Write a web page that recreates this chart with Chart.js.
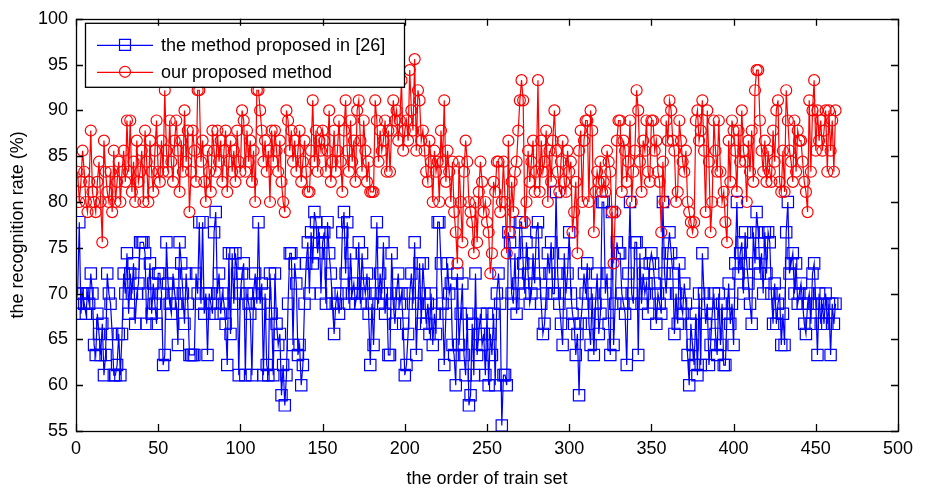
<!DOCTYPE html>
<html>
<head>
<meta charset="utf-8">
<script src="https://cdn.jsdelivr.net/npm/chart.js@4.4.0/dist/chart.umd.min.js"></script>
<style>
html, body { margin: 0; padding: 0; background: #fff; }
</style>
</head>
<body>
<canvas id="chart-area" width="930" height="491"></canvas>
<script>
// recognition rate (%) for each train set
var ref26Rate = [
	70, 77.8, 67.8, 70, 68.9, 67.8, 70, 68.9, 72.2, 70,
	64.4, 63.3, 67.8, 65.6, 63.3, 66.7, 61.1, 63.3, 72.2, 70,
	68.9, 65.6, 61.1, 61.1, 62.2, 65.6, 61.1, 65.6, 72.2, 70,
	74.4, 67.8, 72.2, 70, 73.3, 66.7, 70, 71.1, 75.6, 75.6,
	75.6, 74.4, 66.7, 70, 73.3, 67.8, 71.1, 68.9, 66.7, 72.2,
	72.2, 70, 62.2, 63.3, 75.6, 71.1, 68.9, 67.8, 72.2, 70,
	68.9, 64.4, 75.6, 73.3, 70, 66.7, 72.2, 68.9, 63.3, 63.3,
	63.3, 63.3, 72.2, 70, 77.8, 68.9, 77.8, 67.8, 70, 63.3,
	70, 68.9, 67.8, 76.7, 78.9, 70, 72.2, 67.8, 70, 68.9,
	66.7, 62.2, 74.4, 65.6, 74.4, 68.9, 74.4, 72.2, 61.1, 70,
	72.2, 73.3, 61.1, 70, 68.9, 67.8, 61.1, 70, 72.2, 68.9,
	77.8, 68.9, 71.1, 61.1, 70, 62.2, 61.1, 72.2, 67.8, 61.1,
	72.2, 66.7, 64.4, 65.6, 58.9, 62.2, 57.8, 61.1, 68.9, 74.4,
	74.4, 64.4, 73.3, 71.1, 63.3, 64.4, 60, 62.2, 68.9, 73.3,
	75.6, 70, 76.7, 73.3, 78.9, 77.8, 74.4, 76.7, 70, 75.6,
	76.7, 68.9, 77.8, 74.4, 72.2, 68.9, 65.6, 68.9, 70, 67.8,
	70, 76.7, 78.9, 72.2, 77.8, 68.9, 74.4, 70, 71.1, 68.9,
	70, 75.6, 68.9, 74.4, 71.1, 70, 72.2, 67.8, 62.2, 68.9,
	64.4, 70, 77.8, 68.9, 72.2, 70, 75.6, 67.8, 70, 63.3,
	63.3, 74.4, 68.9, 66.7, 70, 72.2, 68.9, 70, 66.7, 61.1,
	62.2, 65.6, 70, 72.2, 68.9, 75.6, 63.3, 68.9, 73.3, 66.7,
	73.3, 70, 66.7, 68.9, 65.6, 70, 64.4, 67.8, 65.6, 77.8,
	77.8, 73.3, 68.9, 62.2, 67.8, 73.3, 70, 71.1, 64.4, 63.3,
	60, 72.2, 64.4, 67.8, 71.1, 63.3, 61.1, 67.8, 57.8, 58.9,
	66.7, 61.1, 72.2, 63.3, 65.6, 67.8, 64.4, 65.6, 61.1, 67.8,
	60, 65.6, 63.3, 67.8, 60, 70, 72.2, 68.9, 55.6, 61.1,
	61.1, 60, 76.7, 75.6, 70, 68.9, 74.4, 67.8, 71.1, 77.8,
	77.8, 73.3, 70, 75.6, 72.2, 68.9, 70, 74.4, 71.1, 76.7,
	77.8, 72.2, 68.9, 65.6, 66.7, 70, 74.4, 72.2, 75.6, 70,
	70, 81.1, 72.2, 68.9, 66.7, 64.4, 74.4, 70, 72.2, 76.7,
	70, 67.8, 66.7, 63.3, 65.6, 58.9, 66.7, 68.9, 72.2, 70,
	73.3, 66.7, 64.4, 70, 63.3, 68.9, 72.2, 65.6, 67.8, 80,
	80, 70, 72.2, 66.7, 63.3, 78.9, 64.4, 68.9, 75.6, 74.4,
	74.4, 70, 68.9, 67.8, 62.2, 72.2, 80, 70, 68.9, 75.6,
	75.6, 63.3, 74.4, 68.9, 72.2, 70, 71.1, 67.8, 73.3, 74.4,
	73.3, 71.1, 66.7, 70, 68.9, 67.8, 80, 72.2, 70, 74.4,
	76.7, 74.4, 72.2, 65.6, 70, 66.7, 73.3, 68.9, 67.8, 71.1,
	68.9, 63.3, 60, 66.7, 64.4, 62.2, 67.8, 61.1, 70, 62.2,
	74.4, 70, 66.7, 68.9, 62.2, 64.4, 67.8, 70, 65.6, 63.3,
	70, 64.4, 68.9, 62.2, 62.2, 67.8, 71.1, 66.7, 68.9, 64.4,
	73.3, 80, 72.2, 74.4, 75.6, 70, 76.7, 73.3, 71.1, 68.9,
	66.7, 76.7, 73.3, 78.9, 76.7, 72.2, 74.4, 70, 76.7, 72.2,
	76.7, 75.6, 70, 66.7, 71.1, 66.7, 68.9, 70, 64.4, 67.8,
	64.4, 76.7, 80, 72.2, 73.3, 74.4, 70, 73.3, 68.9, 70,
	71.1, 68.9, 66.7, 65.6, 68.9, 70, 66.7, 72.2, 73.3, 68.9,
	63.3, 70, 66.7, 68.9, 66.7, 70, 66.7, 68.9, 63.3, 68.9, 66.7, 68.9
];
var oursRate = [
	83.3, 80, 82.2, 85.6, 83.3, 80, 78.9, 82.2, 87.8, 81.1,
	80, 78.9, 82.2, 84.4, 80, 75.6, 86.7, 83.3, 81.1, 80,
	83.3, 78.9, 85.6, 80, 82.2, 84.4, 80, 83.3, 85.6, 82.2,
	88.9, 83.3, 88.9, 81.1, 84.4, 80, 86.7, 82.2, 83.3, 85.6,
	80, 87.8, 84.4, 80, 86.7, 83.3, 81.1, 85.6, 88.9, 83.3,
	82.2, 86.7, 83.3, 92.2, 85.6, 83.3, 88.9, 84.4, 82.2, 86.7,
	88.9, 85.6, 81.1, 86.7, 83.3, 90, 84.4, 87.8, 78.9, 83.3,
	87.8, 85.6, 82.2, 92.2, 92.2, 84.4, 86.7, 82.2, 80, 85.6,
	83.3, 81.1, 87.8, 85.6, 83.3, 87.8, 84.4, 86.7, 82.2, 85.6,
	87.8, 81.1, 84.4, 86.7, 83.3, 85.6, 82.2, 87.8, 84.4, 83.3,
	90, 88.9, 83.3, 87.8, 84.4, 86.7, 82.2, 85.6, 80, 92.2,
	92.2, 90, 87.8, 84.4, 86.7, 83.3, 85.6, 80, 87.8, 84.4,
	87.8, 85.6, 83.3, 86.7, 82.2, 80, 78.9, 90, 88.9, 85.6,
	87.8, 84.4, 86.7, 83.3, 85.6, 87.8, 82.2, 84.4, 86.7, 83.3,
	81.1, 81.1, 85.6, 91.1, 84.4, 87.8, 83.3, 86.7, 85.6, 87.8,
	86.7, 83.3, 85.6, 90, 82.2, 84.4, 87.8, 83.3, 85.6, 88.9,
	84.4, 81.1, 87.8, 91.1, 85.6, 83.3, 88.9, 84.4, 86.7, 82.2,
	90, 91.1, 86.7, 83.3, 88.9, 85.6, 82.2, 84.4, 81.1, 81.1,
	81.1, 91.1, 88.9, 84.4, 87.8, 85.6, 86.7, 88.9, 83.3, 87.8,
	83.3, 87.8, 91.1, 88.9, 90, 86.7, 88.9, 93.3, 85.6, 87.8,
	88.9, 86.7, 94.4, 90, 87.8, 95.6, 85.6, 92.2, 91.1, 86.7,
	87.8, 85.6, 83.3, 82.2, 86.7, 84.4, 80, 85.6, 83.3, 84.4,
	80, 87.8, 84.4, 91.1, 82.2, 85.6, 83.3, 80, 84.4, 78.9,
	76.7, 73.3, 84.4, 80, 75.6, 83.3, 86.7, 84.4, 80, 78.9,
	77.8, 74.4, 80, 75.6, 81.1, 84.4, 82.2, 78.9, 80, 77.8,
	76.7, 72.2, 74.4, 82.2, 81.1, 84.4, 84.4, 78.9, 80, 84.4,
	80, 74.4, 86.7, 76.7, 82.2, 78.9, 83.3, 84.4, 87.8, 91.1,
	93.3, 91.1, 77.8, 80, 85.6, 82.2, 84.4, 86.7, 81.1, 83.3,
	93.3, 81.1, 86.7, 83.3, 84.4, 87.8, 80, 85.6, 82.2, 86.7,
	90, 85.6, 83.3, 81.1, 84.4, 86.7, 82.2, 81.1, 85.6, 83.3,
	84.4, 76.7, 78.9, 82.2, 74.4, 85.6, 87.8, 80, 86.7, 88.9,
	88.9, 80, 90, 87.8, 76.7, 81.1, 83.3, 82.2, 84.4, 81.1,
	82.2, 81.1, 85.6, 84.4, 83.3, 78.9, 73.3, 78.9, 86.7, 88.9,
	88.9, 81.1, 86.7, 85.6, 82.2, 84.4, 88.9, 80, 83.3, 85.6,
	92.2, 90, 84.4, 81.1, 86.7, 85.6, 88.9, 83.3, 82.2, 88.9,
	88.9, 85.6, 86.7, 83.3, 82.2, 76.7, 84.4, 80, 88.9, 86.7,
	91.1, 90, 86.7, 85.6, 80, 81.1, 88.9, 86.7, 84.4, 83.3,
	85.6, 80, 78.9, 77.8, 76.7, 77.8, 88.9, 90, 86.7, 87.8,
	91.1, 85.6, 78.9, 90, 84.4, 76.7, 80, 88.9, 85.6, 83.3,
	88.9, 83.3, 80, 81.1, 77.8, 75.6, 86.7, 82.2, 88.9, 87.8,
	85.6, 81.1, 87.8, 84.4, 90, 85.6, 84.4, 80, 86.7, 83.3,
	87.8, 82.2, 92.2, 94.4, 94.4, 88.9, 85.6, 83.3, 86.7, 82.2,
	85.6, 83.3, 82.2, 87.8, 84.4, 90, 91.1, 82.2, 81.1, 85.6,
	81.1, 92.2, 88.9, 85.6, 84.4, 82.2, 88.9, 83.3, 87.8, 86.7,
	86.7, 84.4, 82.2, 81.1, 78.9, 91.1, 83.3, 90, 93.3, 85.6,
	90, 86.7, 88.9, 85.6, 87.8, 90, 83.3, 90, 85.6, 88.9, 83.3, 90
];
var seriesNames = ['the method proposed in [26]', 'our proposed method'];
var xTicks = [0, 50, 100, 150, 200, 250, 300, 350, 400, 450, 500];
var yTicks = [55, 60, 65, 70, 75, 80, 85, 90, 95, 100];

var FONT = '"Liberation Sans", Arial, Helvetica, sans-serif';

function toPoints(arr) {
	return arr.map(function(v, i) { return {x: i + 1, y: v}; });
}

// box, inward ticks on all four sides (matlab style)
var axesBox = {
	id: 'axesBox',
	afterDraw: function(chart) {
		var ctx = chart.ctx, a = chart.chartArea;
		var xs = chart.scales.x, ys = chart.scales.y;
		var tl = 7;
		ctx.save();
		ctx.strokeStyle = '#000';
		ctx.lineWidth = 1.3;
		ctx.beginPath();
		xTicks.forEach(function(v) {
			var px = Math.round(xs.getPixelForValue(v)) + 0.5;
			ctx.moveTo(px, a.bottom); ctx.lineTo(px, a.bottom - tl);
			ctx.moveTo(px, a.top); ctx.lineTo(px, a.top + tl);
		});
		yTicks.forEach(function(v) {
			var py = Math.round(ys.getPixelForValue(v)) + 0.5;
			ctx.moveTo(a.left, py); ctx.lineTo(a.left + tl, py);
			ctx.moveTo(a.right, py); ctx.lineTo(a.right - tl, py);
		});
		ctx.stroke();
		ctx.strokeRect(Math.round(a.left) + 0.5, Math.round(a.top) + 0.5,
			Math.round(a.right - a.left), Math.round(a.bottom - a.top));
		ctx.restore();
	}
};

// legend box drawn like the matlab one: line through the marker
var lineLegend = {
	id: 'lineLegend',
	afterDatasetsDraw: function(chart) {
		var ctx = chart.ctx, a = chart.chartArea;
		var bx = a.left + 9, by = a.top + 4, bw = 319, bh = 64;
		ctx.save();
		ctx.fillStyle = '#fff';
		ctx.fillRect(bx, by, bw, bh);
		ctx.strokeStyle = '#000';
		ctx.lineWidth = 1.3;
		ctx.strokeRect(bx + 0.5, by + 0.5, bw, bh);
		var rows = [
			{y: by + 22, color: '#0000ff', style: 'rect'},
			{y: by + 49, color: '#ff0000', style: 'circle'}
		];
		rows.forEach(function(r, i) {
			ctx.strokeStyle = r.color;
			ctx.lineWidth = 1.2;
			ctx.beginPath();
			ctx.moveTo(bx + 12, r.y + 0.5); ctx.lineTo(bx + 68, r.y + 0.5);
			ctx.stroke();
			ctx.beginPath();
			if (r.style === 'rect') {
				ctx.rect(bx + 40 - 5.5, r.y - 5.5, 11, 11);
			} else {
				ctx.arc(bx + 40, r.y, 5.5, 0, Math.PI * 2);
			}
			ctx.stroke();
			ctx.fillStyle = '#000';
			ctx.font = '18px ' + FONT;
			ctx.textBaseline = 'middle';
			ctx.fillText(seriesNames[i], bx + 76, r.y + 1);
		});
		ctx.restore();
	}
};

var config = {
	type: 'line',
	data: {
		datasets: [{
			label: seriesNames[0],
			data: toPoints(ref26Rate),
			borderColor: '#0000ff',
			backgroundColor: 'rgba(0,0,0,0)',
			borderWidth: 1.2,
			pointStyle: 'rect',
			pointRadius: 8,
			pointBorderWidth: 1.2,
			pointBorderColor: '#0000ff',
			pointBackgroundColor: 'rgba(0,0,0,0)',
			tension: 0,
			order: 2
		}, {
			label: seriesNames[1],
			data: toPoints(oursRate),
			borderColor: '#ff0000',
			backgroundColor: 'rgba(0,0,0,0)',
			borderWidth: 1.2,
			pointStyle: 'circle',
			pointRadius: 5.5,
			pointBorderWidth: 1.2,
			pointBorderColor: '#ff0000',
			pointBackgroundColor: 'rgba(0,0,0,0)',
			tension: 0,
			order: 1
		}]
	},
	options: {
		responsive: false,
		animation: false,
		layout: {padding: {left: 0, right: 32, top: 16, bottom: 0}},
		plugins: {
			legend: {display: false},
			tooltip: {enabled: false}
		},
		scales: {
			x: {
				type: 'linear',
				min: 0,
				max: 500,
				afterFit: function(scale) { scale.height = 60; },
				afterBuildTicks: function(scale) {
					scale.ticks = xTicks.map(function(v) { return {value: v}; });
				},
				grid: {display: false, drawTicks: false},
				border: {display: false},
				ticks: {color: '#000', padding: 7, maxRotation: 0, font: {family: FONT, size: 18}},
				title: {display: true, text: 'the order of train set', color: '#000',
					padding: {top: 0, bottom: 1}, font: {family: FONT, size: 18}}
			},
			y: {
				min: 55,
				max: 100,
				afterFit: function(scale) { scale.width = 76; },
				afterBuildTicks: function(scale) {
					scale.ticks = yTicks.map(function(v) { return {value: v}; });
				},
				grid: {display: false, drawTicks: false},
				border: {display: false},
				ticks: {color: '#000', padding: 8, font: {family: FONT, size: 18}},
				title: {display: true, text: 'the recognition rate (%)', color: '#000',
					padding: {top: 7, bottom: 0}, font: {family: FONT, size: 18}}
			}
		}
	},
	plugins: [lineLegend, axesBox]
};

window.onload = function() {
	var ctx = document.getElementById('chart-area').getContext('2d');
	window.myLine = new Chart(ctx, config);
};
</script>
</body>
</html>
